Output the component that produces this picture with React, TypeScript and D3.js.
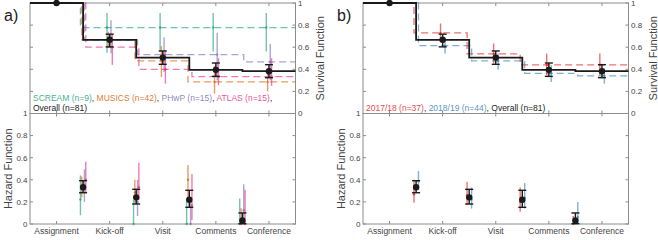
import * as React from "react";
import * as d3 from "d3";

const stages = ["Assignment", "Kick-off", "Visit", "Comments", "Conference"];
const yTicks = [0, 0.2, 0.4, 0.6, 0.8, 1];
const yTickLabels = ["0", "0.2", "0.4", "0.6", "0.8", "1"];

// overall cohort, shown in both panels
const overallN = 81;
const overallSurv = [1, 0.667, 0.506, 0.395, 0.383];
const overallSurvLo = [1, 0.603, 0.445, 0.336, 0.324];
const overallSurvHi = [1, 0.718, 0.566, 0.457, 0.442];
const overallHaz = [0.333, 0.241, 0.22, 0.031];
const overallHazLo = [0.283, 0.181, 0.151, 0.003];
const overallHazHi = [0.392, 0.314, 0.305, 0.1];

// panel a: by project
const projectNames = ["SCREAM", "MUSICS", "PHwP", "ATLAS"];
const projectN = [9, 42, 15, 15];
const screamSurv = [1, 0.778, 0.778, 0.778, 0.778];
const screamSurvLo = [1, 0.55, 0.56, 0.56, 0.56];
const screamSurvHi = [1, 0.91, 0.91, 0.91, 0.91];
const screamHaz = [0.222, 0, 0, 0];
const screamHazLo = [0.08, 0, 0, 0];
const screamHazHi = [0.44, 0.22, 0.23, 0.23];
const musicsSurv = [1, 0.667, 0.476, 0.286, 0.286];
const musicsSurvLo = [1, 0.6, 0.33, 0.18, 0.2];
const musicsSurvHi = [1, 0.74, 0.61, 0.43, 0.4];
const musicsHaz = [0.333, 0.286, 0.4, 0];
const musicsHazLo = [0.24, 0.19, 0.217, 0];
const musicsHazHi = [0.43, 0.4, 0.534, 0.142];
const phwpSurv = [1, 0.667, 0.533, 0.533, 0.467];
const phwpSurvLo = [1, 0.545, 0.375, 0.3, 0.3];
const phwpSurvHi = [1, 0.845, 0.69, 0.73, 0.63];
const phwpHaz = [0.333, 0.2, 0, 0.125];
const phwpHazLo = [0.2, 0.072, 0, 0];
const phwpHazHi = [0.495, 0.4, 0.22, 0.36];
const atlasSurv = [1, 0.6, 0.4, 0.333, 0.333];
const atlasSurvLo = [1, 0.44, 0.27, 0.255, 0.25];
const atlasSurvHi = [1, 0.72, 0.57, 0.5, 0.5];
const atlasHaz = [0.4, 0.333, 0.167, 0];
const atlasHazLo = [0.29, 0.217, 0.036, 0];
const atlasHazHi = [0.564, 0.555, 0.452, 0.31];

// panel b: by academic year
const yearNames = ["2017/18", "2018/19"];
const yearN = [37, 44];
const y1718Surv = [1, 0.73, 0.54, 0.44, 0.44];
const y1718SurvLo = [1, 0.648, 0.452, 0.345, 0.345];
const y1718SurvHi = [1, 0.815, 0.634, 0.543, 0.543];
const y1718Haz = [0.27, 0.26, 0.2, 0];
const y1718HazLo = [0.193, 0.17, 0.11, 0];
const y1718HazHi = [0.4, 0.38, 0.33, 0.072];
const y1819Surv = [1, 0.614, 0.477, 0.364, 0.341];
const y1819SurvLo = [1, 0.543, 0.397, 0.285, 0.27];
const y1819SurvHi = [1, 0.68, 0.543, 0.436, 0.406];
const y1819Haz = [0.386, 0.222, 0.238, 0.0625];
const y1819HazLo = [0.31, 0.14, 0.14, 0];
const y1819HazHi = [0.48, 0.33, 0.37, 0.2];

interface Series {
  name: string;
  n: number;
  color: string;
  offset: number;
  surv: number[];
  survLo: number[];
  survHi: number[];
  haz: number[];
  hazLo: number[];
  hazHi: number[];
}

const FONT = "'Liberation Sans', Arial, Helvetica, sans-serif";
const AXIS_COLOR = "#8c8c8c";
const TEXT_COLOR = "#444";
const BLACK = "#1a1a1a";

export default class App extends React.Component {

  private svgRef = React.createRef<SVGSVGElement>();

  public componentDidMount() {
    this.drawChart();
  }

  public render() {
    return (
      <svg ref={this.svgRef} width={658} height={240}
        style={{position: "absolute", left: 0, top: 0, background: "#fff"}} />
    );
  }

  private drawChart() {
    if (!this.svgRef.current) return;
    const svg = d3.select(this.svgRef.current);
    svg.selectAll("*").remove();

    const projects: Series[] = [
      {name: projectNames[0], n: projectN[0], color: "#1b9e77", offset: -0.05,
        surv: screamSurv, survLo: screamSurvLo, survHi: screamSurvHi,
        haz: screamHaz, hazLo: screamHazLo, hazHi: screamHazHi},
      {name: projectNames[1], n: projectN[1], color: "#d95f02", offset: -0.025,
        surv: musicsSurv, survLo: musicsSurvLo, survHi: musicsSurvHi,
        haz: musicsHaz, hazLo: musicsHazLo, hazHi: musicsHazHi},
      {name: projectNames[2], n: projectN[2], color: "#7570b3", offset: 0.025,
        surv: phwpSurv, survLo: phwpSurvLo, survHi: phwpSurvHi,
        haz: phwpHaz, hazLo: phwpHazLo, hazHi: phwpHazHi},
      {name: projectNames[3], n: projectN[3], color: "#e7298a", offset: 0.05,
        surv: atlasSurv, survLo: atlasSurvLo, survHi: atlasSurvHi,
        haz: atlasHaz, hazLo: atlasHazLo, hazHi: atlasHazHi},
    ];
    const years: Series[] = [
      {name: yearNames[0], n: yearN[0], color: "#e41a1c", offset: -0.04,
        surv: y1718Surv, survLo: y1718SurvLo, survHi: y1718SurvHi,
        haz: y1718Haz, hazLo: y1718HazLo, hazHi: y1718HazHi},
      {name: yearNames[1], n: yearN[1], color: "#377eb8", offset: 0.045,
        surv: y1819Surv, survLo: y1819SurvLo, survHi: y1819SurvHi,
        haz: y1819Haz, hazLo: y1819HazLo, hazHi: y1819HazHi},
    ];

    this.drawPanel(svg, 30, "a)", projects, 2);
    this.drawPanel(svg, 363, "b)", years, 1);
  }

  private drawPanel(svg: d3.Selection<SVGSVGElement, unknown, null, undefined>,
                    left: number, letter: string, groups: Series[], legendRows: number) {
    const width = 265.5;
    const right = left + width;
    const top = 3;
    const mid = 113.5;
    const bottom = 224;

    const x = d3.scaleLinear().domain([0.5, 5.5]).range([left, right]);
    const ySurv = d3.scaleLinear().domain([0, 1]).range([mid, top]);
    const yHaz = d3.scaleLinear().domain([0, 1]).range([bottom, mid]);

    const g = svg.append("g").style("font-family", FONT);

    // boxes
    [[top, mid], [mid, bottom]].forEach(([y0, y1]) => {
      g.append("rect")
        .attr("x", left).attr("y", y0)
        .attr("width", width).attr("height", y1 - y0)
        .attr("fill", "none").attr("stroke", AXIS_COLOR).attr("stroke-width", 1);
    });

    // ticks (inside)
    const tickLen = 3;
    const ticks = g.append("g").attr("stroke", AXIS_COLOR).attr("stroke-width", 1);
    [1, 2, 3, 4, 5].forEach((t) => {
      [[top, tickLen], [mid, -tickLen], [mid, tickLen], [bottom, -tickLen]].forEach(([yy, d]) => {
        ticks.append("line")
          .attr("x1", x(t)).attr("x2", x(t))
          .attr("y1", yy).attr("y2", yy + d);
      });
    });
    yTicks.forEach((t) => {
      [ySurv(t), yHaz(t)].forEach((yy) => {
        ticks.append("line").attr("x1", left).attr("x2", left + tickLen).attr("y1", yy).attr("y2", yy);
        ticks.append("line").attr("x1", right).attr("x2", right - tickLen).attr("y1", yy).attr("y2", yy);
      });
    });

    // tick labels
    g.append("g").selectAll("text")
      .data(yTicks).enter().append("text")
      .attr("x", right + 2.5).attr("y", (d) => ySurv(d))
      .attr("dy", "0.35em")
      .attr("font-size", 8).attr("fill", TEXT_COLOR)
      .text((d, i) => yTickLabels[i]);
    g.append("g").selectAll("text")
      .data(yTicks).enter().append("text")
      .attr("x", left - 2.5).attr("y", (d) => yHaz(d))
      .attr("dy", "0.35em").attr("text-anchor", "end")
      .attr("font-size", 8).attr("fill", TEXT_COLOR)
      .text((d, i) => yTickLabels[i]);
    g.append("g").selectAll("text")
      .data(stages).enter().append("text")
      .attr("x", (d, i) => x(i + 1)).attr("y", 234)
      .attr("text-anchor", "middle")
      .attr("font-size", 8.5).attr("fill", TEXT_COLOR)
      .text((d) => d);

    // axis titles
    g.append("text")
      .attr("transform", `translate(${right + 25},${(top + mid) / 2}) rotate(-90)`)
      .attr("dy", "0.35em").attr("text-anchor", "middle")
      .attr("font-size", 11).attr("fill", TEXT_COLOR)
      .text("Survival Function");
    g.append("text")
      .attr("transform", `translate(${left - 21.5},${(mid + bottom) / 2}) rotate(-90)`)
      .attr("dy", "0.35em").attr("text-anchor", "middle")
      .attr("font-size", 11).attr("fill", TEXT_COLOR)
      .text("Hazard Function");
    g.append("text")
      .attr("x", left - 26).attr("y", 21)
      .attr("font-size", 16).attr("fill", BLACK)
      .text(letter);

    const stepLine = (vals: number[], off: number) => {
      const pts: [number, number][] = [[0.5, vals[0]]];
      vals.slice(1).forEach((v, i) => pts.push([i + 1.5 + off, v]));
      pts.push([5.5, vals[vals.length - 1]]);
      return d3.line<[number, number]>()
        .x((d) => x(d[0])).y((d) => ySurv(d[1]))
        .curve(d3.curveStepAfter)(pts);
    };

    // group survival curves
    groups.forEach((s) => {
      g.append("path")
        .attr("d", stepLine(s.surv, s.offset))
        .attr("fill", "none").attr("stroke", s.color)
        .attr("stroke-width", 1.3).attr("stroke-opacity", 0.62)
        .attr("stroke-dasharray", "7,4");
    });

    // group error bars
    groups.forEach((s) => {
      const gs = g.append("g").attr("stroke", s.color).attr("stroke-width", 1.4).attr("stroke-opacity", 0.62);
      s.surv.slice(1).forEach((v, i) => {
        gs.append("line")
          .attr("x1", x(i + 2 + s.offset)).attr("x2", x(i + 2 + s.offset))
          .attr("y1", ySurv(s.survLo[i + 1])).attr("y2", ySurv(s.survHi[i + 1]));
        gs.append("circle").attr("cx", x(i + 2 + s.offset)).attr("cy", ySurv(v))
          .attr("r", 1.2).attr("fill", s.color).attr("fill-opacity", 0.7).attr("stroke", "none");
      });
      s.haz.forEach((v, i) => {
        gs.append("line")
          .attr("x1", x(i + 1.5 + s.offset)).attr("x2", x(i + 1.5 + s.offset))
          .attr("y1", yHaz(s.hazLo[i])).attr("y2", yHaz(s.hazHi[i]));
        gs.append("circle").attr("cx", x(i + 1.5 + s.offset)).attr("cy", yHaz(v))
          .attr("r", 1.2).attr("fill", s.color).attr("fill-opacity", 0.7).attr("stroke", "none");
      });
    });

    // overall
    g.append("path")
      .attr("d", stepLine(overallSurv, 0))
      .attr("fill", "none").attr("stroke", BLACK).attr("stroke-width", 1.8);

    const errBar = (cx: number, lo: number, hi: number) => {
      const eb = g.append("g").attr("stroke", BLACK).attr("stroke-width", 1.4);
      eb.append("line").attr("x1", cx).attr("x2", cx).attr("y1", lo).attr("y2", hi);
      eb.append("line").attr("x1", cx - 4).attr("x2", cx + 4).attr("y1", lo).attr("y2", lo);
      eb.append("line").attr("x1", cx - 4).attr("x2", cx + 4).attr("y1", hi).attr("y2", hi);
    };
    overallSurv.forEach((v, i) => {
      if (i > 0) errBar(x(i + 1), ySurv(overallSurvLo[i]), ySurv(overallSurvHi[i]));
      g.append("circle").attr("cx", x(i + 1)).attr("cy", ySurv(v)).attr("r", 3.2).attr("fill", BLACK);
    });
    overallHaz.forEach((v, i) => {
      errBar(x(i + 1.5), yHaz(overallHazLo[i]), yHaz(overallHazHi[i]));
      g.append("circle").attr("cx", x(i + 1.5)).attr("cy", yHaz(v)).attr("r", 3.2).attr("fill", BLACK);
    });

    // legend text
    const legend = g.append("text")
      .attr("x", left + 3).attr("y", legendRows === 2 ? 101 : 111)
      .attr("font-size", 8.5);
    groups.forEach((s, i) => {
      legend.append("tspan").attr("fill", s.color).attr("fill-opacity", 0.85).text(`${s.name} (n=${s.n})`);
      legend.append("tspan").attr("fill", BLACK).text(i < groups.length - 1 || legendRows === 1 ? ", " : ",");
    });
    const overallLabel = `Overall (n=${overallN})`;
    if (legendRows === 2) {
      g.append("text").attr("x", left + 3).attr("y", 111)
        .attr("font-size", 8.5).attr("fill", BLACK).text(overallLabel);
    } else {
      legend.append("tspan").attr("fill", BLACK).text(overallLabel);
    }
  }

}
